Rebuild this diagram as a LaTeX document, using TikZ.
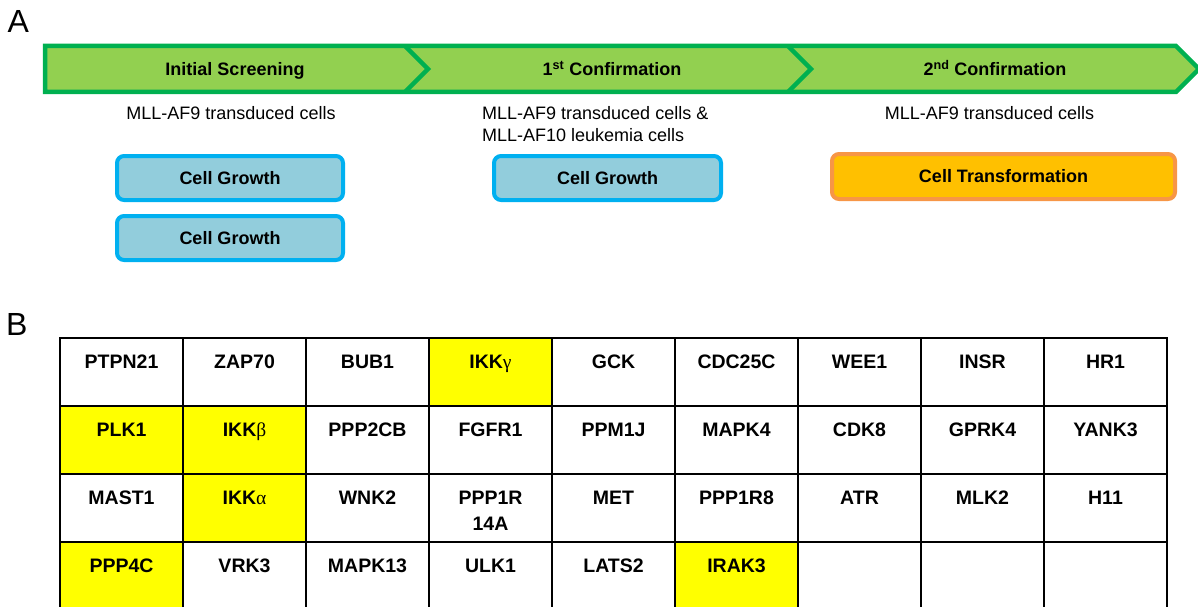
\documentclass[tikz,border=0pt]{standalone}
\usepackage{fontspec}
\setmainfont{Liberation Sans}
\newfontfamily\grk{Liberation Serif}
\definecolor{bandfill}{RGB}{146,208,80}
\definecolor{bandline}{RGB}{0,176,80}
\definecolor{bluefill}{RGB}{146,205,220}
\definecolor{blueline}{RGB}{0,176,240}
\definecolor{orangefill}{RGB}{255,192,0}
\definecolor{orangeline}{RGB}{247,150,70}
\definecolor{hilite}{RGB}{255,255,0}
\newcommand\gcell[4]{%
  \pgfmathsetmacro\cx{121.5+123*#2}%
  \pgfmathsetmacro\cy{372+68*#1}%
  \node[cellbox,fill=#3] (b#1#2) at (\cx,\cy) {};
  \node[celltxt] (t#1#2) at (\cx,\cy-3.5) {#4};
}
\begin{document}
\begin{tikzpicture}[x=1pt,y=-1pt,
  band/.style={draw=bandline, line width=4.5pt, line join=miter},
  phase/.style={font=\fontsize{18}{22}\selectfont\bfseries, anchor=base, inner sep=0},
  sub/.style={font=\fontsize{18}{22.5}\selectfont, anchor=base, inner sep=0},
  growth/.style={draw=blueline, fill=bluefill, line width=4pt, rounded corners=7pt,
    minimum width=226pt, minimum height=44pt, inner sep=0, font=\fontsize{18}{22}\selectfont\bfseries},
  trans/.style={draw=orangeline, fill=orangefill, line width=4pt, rounded corners=7pt,
    minimum width=343pt, minimum height=45pt, inner sep=0, font=\fontsize{18}{22}\selectfont\bfseries},
  cellbox/.style={draw=black, line width=2.5pt, minimum width=123pt, minimum height=68pt, inner sep=0},
  celltxt/.style={anchor=base, inner sep=0, font=\fontsize{19.5}{26}\selectfont\bfseries},
  panel/.style={anchor=base west, inner sep=0, font=\fontsize{32}{36}\selectfont}
]
\useasboundingbox (0,0) rectangle (1198,607);

% panel labels
\node[panel] (labA) at (7.5,33) {A};
\node[panel] (labB) at (6,335) {B};

% band
\fill[bandfill] (45,46) -- (1176,46) -- (1199,69) -- (1176,92) -- (45,92) -- cycle;
\draw[band] (45,46) -- (1176,46) -- (1199,69) -- (1176,92) -- (45,92) -- cycle;
\draw[band] (405,46) -- (428,69) -- (405,92);
\draw[band] (788,46) -- (811,69) -- (788,92);

\node[phase] (p1) at (235,76) {Initial Screening};
\node[phase] (p2) at (612,76) {1\textsuperscript{st} Confirmation};
\node[phase] (p3) at (995,76) {2\textsuperscript{nd} Confirmation};

\node[sub] (s1) at (231,119) {MLL-AF9 transduced cells};
\node[sub, anchor=base west] (s2) at (482,119) {\fontsize{18}{22.5}\selectfont\begin{tabular}[t]{@{}l@{}}MLL-AF9 transduced cells \&\\MLL-AF10 leukemia cells\end{tabular}};
\node[sub] (s3) at (989.5,119) {MLL-AF9 transduced cells};

\node[growth] (g1) at (230,178) {Cell Growth};
\node[growth] (g2) at (230,238) {Cell Growth};
\node[growth, minimum width=227pt] (g3) at (607.5,178) {Cell Growth};
\node[trans] (tr) at (1003.5,176.5) {Cell Transformation};

% table
\gcell{0}{0}{white}{PTPN21}
\gcell{0}{1}{white}{ZAP70}
\gcell{0}{2}{white}{BUB1}
\gcell{0}{3}{hilite}{IKK{\grk\mdseries γ}}
\gcell{0}{4}{white}{GCK}
\gcell{0}{5}{white}{CDC25C}
\gcell{0}{6}{white}{WEE1}
\gcell{0}{7}{white}{INSR}
\gcell{0}{8}{white}{HR1}
\gcell{1}{0}{hilite}{PLK1}
\gcell{1}{1}{hilite}{IKK{\grk\mdseries β}}
\gcell{1}{2}{white}{PPP2CB}
\gcell{1}{3}{white}{FGFR1}
\gcell{1}{4}{white}{PPM1J}
\gcell{1}{5}{white}{MAPK4}
\gcell{1}{6}{white}{CDK8}
\gcell{1}{7}{white}{GPRK4}
\gcell{1}{8}{white}{YANK3}
\gcell{2}{0}{white}{MAST1}
\gcell{2}{1}{hilite}{IKK{\grk\mdseries α}}
\gcell{2}{2}{white}{WNK2}
\gcell{2}{3}{white}{\begin{tabular}[t]{@{}c@{}}PPP1R\\14A\end{tabular}}
\gcell{2}{4}{white}{MET}
\gcell{2}{5}{white}{PPP1R8}
\gcell{2}{6}{white}{ATR}
\gcell{2}{7}{white}{MLK2}
\gcell{2}{8}{white}{H11}
\gcell{3}{0}{hilite}{PPP4C}
\gcell{3}{1}{white}{VRK3}
\gcell{3}{2}{white}{MAPK13}
\gcell{3}{3}{white}{ULK1}
\gcell{3}{4}{white}{LATS2}
\gcell{3}{5}{hilite}{IRAK3}
\gcell{3}{6}{white}{}
\gcell{3}{7}{white}{}
\gcell{3}{8}{white}{}
\end{tikzpicture}
\end{document}
